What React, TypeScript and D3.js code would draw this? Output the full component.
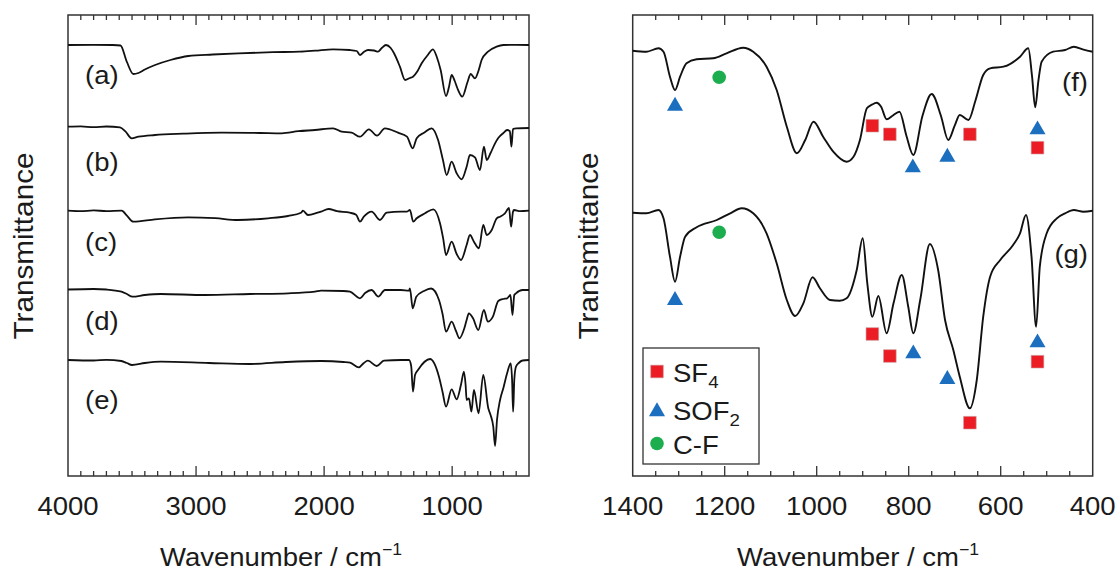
import React from 'react';
import * as d3 from 'd3';

// IR spectra, [wavenumber (cm-1), transmittance relative to each trace's baseline (a.u.)]
const specA: [number, number][] = [
  [4000, 0], [3800, 0.02], [3650, 0], [3590, -0.05], [3540, -1.7], [3490, -2.9], [3450, -2.8], [3400, -2.45],
  [3320, -2.0], [3200, -1.5], [3060, -1.1], [2870, -0.95], [2670, -0.83], [2400, -0.72], [2190, -0.67], [2070, -0.57],
  [1930, -0.43], [1800, -0.5], [1745, -0.6], [1720, -1.0], [1690, -0.7], [1657, -0.5], [1610, -0.55], [1579, -0.67],
  [1550, -0.3], [1517, 0], [1480, -0.3], [1454, -0.83], [1408, -2.17], [1368, -3.5], [1330, -3.3], [1306, -3.17],
  [1270, -2.6], [1238, -1.83], [1190, -1.0], [1150, -0.43], [1120, -1.2], [1090, -2.5], [1048, -5.1], [1025, -4.2],
  [1004, -3.0], [980, -3.6], [960, -4.3], [921, -5.17], [880, -3.7], [855, -2.9], [822, -3.33], [795, -2.6],
  [770, -1.5], [720, -0.67], [653, -0.17], [600, 0], [500, 0.02], [400, 0],
];
const specB: [number, number][] = [
  [4000, 0], [3900, 0.03], [3800, -0.05], [3700, 0.02], [3594, -0.06], [3550, -0.5], [3503, -1.16], [3450, -1.0],
  [3321, -0.83], [3100, -0.7], [2800, -0.6], [2500, -0.63], [2331, -0.66], [2200, -0.45], [2071, -0.33], [1930, -0.16],
  [1863, -0.5], [1785, -0.6], [1720, -1.0], [1650, -0.26], [1587, -0.9], [1525, -0.16], [1423, -0.6], [1353, -1.0],
  [1308, -2.16], [1277, -1.16], [1220, -0.6], [1160, -0.16], [1110, -1.33], [1072, -3.33], [1043, -4.83], [1004, -3.5],
  [965, -4.66], [926, -5.26], [887, -4.0], [861, -2.83], [822, -3.06], [783, -4.33], [752, -2.0], [730, -3.33],
  [700, -2.63], [665, -1.66], [640, -1.13], [600, -0.63], [571, -0.33], [550, -0.43], [537, -2.0], [525, -0.23],
  [500, -0.16], [400, -0.13],
];
const specC: [number, number][] = [
  [4000, 0], [3900, -0.05], [3800, 0.03], [3700, -0.04], [3581, 0], [3540, -0.5], [3490, -1.1], [3321, -0.86],
  [3063, -0.66], [2850, -0.75], [2672, -0.93], [2438, -0.76], [2282, -0.53], [2180, -0.2], [2165, 0], [2126, -0.43],
  [2050, -0.2], [2024, -0.1], [1965, 0.17], [1900, -0.05], [1800, -0.2], [1750, -0.4], [1720, -1.1], [1690, -0.6],
  [1629, -0.1], [1564, -0.93], [1511, -0.2], [1400, -0.1], [1355, -0.1], [1330, 0.07], [1304, -1.1], [1277, -0.76],
  [1212, -0.26], [1147, 0.14], [1095, -1.26], [1070, -2.8], [1048, -4.43], [1004, -3.1], [965, -4.33], [931, -4.93],
  [887, -3.43], [861, -2.43], [830, -3.1], [791, -3.76], [757, -1.43], [730, -2.43], [691, -1.93], [652, -0.76],
  [626, -0.6], [590, -0.3], [556, 0.27], [540, -1.6], [525, -0.1], [517, 0.07], [470, -0.05], [400, 0],
];
const specD: [number, number][] = [
  [4000, -0.05], [3800, 0], [3700, -0.05], [3583, -0.27], [3540, -0.5], [3497, -0.77], [3400, -0.6], [3276, -0.5],
  [2930, -0.6], [2579, -0.5], [2280, -0.43], [2071, -0.27], [2024, -0.17], [1850, -0.2], [1798, -0.27], [1720, -0.93],
  [1680, -0.4], [1629, -0.1], [1577, -0.77], [1525, -0.1], [1400, -0.1], [1337, -0.17], [1330, 0.07], [1308, -1.93],
  [1280, -0.77], [1220, -0.2], [1165, 0.05], [1103, -1.1], [1075, -2.5], [1048, -4.27], [1004, -3.27], [970, -4.2],
  [943, -4.93], [905, -3.93], [887, -3.1], [870, -2.43], [837, -2.93], [796, -4.1], [752, -2.1], [722, -3.26],
  [682, -2.76], [640, -1.2], [600, -1.0], [571, -0.93], [545, -0.6], [529, -2.6], [515, -0.6], [502, -0.43],
  [450, -0.1], [400, -0.1],
];
const specE: [number, number][] = [
  [4000, 0], [3800, -0.05], [3700, 0.02], [3583, -0.1], [3540, -0.3], [3500, -0.5], [3400, -0.3], [3276, -0.17],
  [2900, -0.3], [2579, -0.4], [2300, -0.2], [2024, -0.1], [1850, -0.2], [1798, -0.27], [1728, -0.73], [1690, -0.3],
  [1658, -0.07], [1589, -0.6], [1533, -0.07], [1400, 0], [1337, 0], [1320, -0.6], [1306, -3.17], [1290, -1.5],
  [1267, -1.0], [1173, 0.1], [1103, -1.67], [1075, -3.2], [1048, -4.67], [1004, -2.93], [965, -3.93], [930, -2.4],
  [908, -1.17], [895, -2.5], [887, -4.0], [869, -3.83], [850, -5.17], [830, -3.0], [794, -5.33], [757, -1.5],
  [718, -4.83], [700, -5.5], [679, -6.67], [665, -8.6], [650, -6.0], [626, -4.0], [600, -2.8], [571, -1.33],
  [543, -0.33], [532, -2.0], [524, -5.17], [515, -2.0], [502, -0.67], [480, -0.3], [450, -0.05], [400, 0],
];
const specF: [number, number][] = [
  [1400, 0], [1370, -0.1], [1344, 0.24], [1333, -0.1], [1319, -2.6], [1308, -3.93], [1297, -2.6], [1283, -1.26],
  [1261, -0.86], [1225, -0.76], [1196, -0.26], [1160, 0.3], [1138, -0.1], [1109, -1.6], [1087, -3.93], [1065, -7.6],
  [1043, -10.26], [1025, -8.93], [1007, -7.1], [986, -8.6], [964, -10.1], [935, -11.1], [920, -10.6], [906, -8.93],
  [891, -5.76], [880, -5.4], [870, -5.2], [860, -5.6], [848, -6.86], [835, -6.5], [820, -6.1], [805, -8.5],
  [790, -10.43], [770, -6.5], [750, -4.33], [730, -6.5], [714, -8.93], [700, -7.5], [689, -6.43], [670, -6.93],
  [655, -5.0], [638, -2.43], [623, -1.76], [594, -1.6], [558, -0.6], [540, 0.24], [532, -2.5], [525, -5.66],
  [518, -3.0], [511, -1.1], [486, -0.1], [460, 0.07], [441, 0.4], [420, 0.1], [400, -0.1],
];
const specG: [number, number][] = [
  [1400, 0], [1370, -0.06], [1344, 0.27], [1333, -0.56], [1319, -4.4], [1308, -6.9], [1297, -4.4], [1286, -2.4],
  [1261, -1.46], [1217, -0.73], [1188, -0.06], [1163, 0.44], [1138, -0.06], [1109, -2.06], [1087, -5.06], [1065, -8.73],
  [1047, -10.33], [1029, -9.06], [1009, -6.46], [993, -7.56], [971, -8.73], [950, -8.8], [935, -8.56], [913, -5.73],
  [900, -2.56], [890, -7.06], [879, -10.4], [866, -8.33], [848, -12.06], [833, -9.06], [815, -6.23], [801, -9.4],
  [790, -12.06], [775, -8.73], [754, -3.13], [736, -5.73], [721, -10.73], [703, -13.73], [689, -16.4], [667, -19.56],
  [652, -16.73], [638, -10.4], [623, -6.4], [601, -4.73], [573, -3.23], [558, -2.06], [545, -0.23], [533, -4.4],
  [523, -11.4], [515, -5.4], [500, -2.06], [478, -0.56], [460, -0.06], [441, 0.27], [420, 0.1], [400, 0.2],
];

const leftSpectra = [specA, specB, specC, specD, specE];
const leftOffsets = [43.1, 34.93, 26.53, 18.7, 11.6];
const leftLabels = ['(a)', '(b)', '(c)', '(d)', '(e)'];
const rightSpectra = [specF, specG];
const rightOffsets = [42.53, 26.33];
const rightLabels = ['(f)', '(g)'];

const leftTickLabels = [4000, 3000, 2000, 1000];
const rightTickLabels = [1400, 1200, 1000, 800, 600, 400];

// band assignments, [wavenumber, transmittance (same units as offsets)]
const sf4Marks: [number, number][] = [
  [879, 35.03], [841, 34.17], [667, 34.17], [520, 32.83],
  [879, 14.2], [841, 12.0], [667, 5.33], [520, 11.43],
];
const sof2Marks: [number, number][] = [
  [1308, 37.2], [791, 31.03], [716, 32.1], [520, 34.83],
  [1308, 17.77], [790, 12.43], [716, 9.87], [520, 13.53],
];
const cfMarks: [number, number][] = [[1212, 39.87], [1212, 24.37]];

const RED = '#ec1c24';
const BLUE = '#1b6fbe';
const GREEN = '#1cad4e';
const FONT = "'Liberation Sans', Arial, Helvetica, sans-serif";
const SX = 1.1; // glyphs in the figure are a bit wider than Arial

const W = 1120;
const H = 572;
const TOP = 15;
const BOTTOM = 476;

const yScale = d3.scaleLinear().domain([0, 46.1]).range([BOTTOM, TOP]);
const xLeft = d3.scaleLinear().domain([4000, 400]).range([68, 529]);
const xRight = d3.scaleLinear().domain([1400, 400]).range([632.7, 1092.7]);

const sqPath = d3.symbol().type(d3.symbolSquare).size(160)() as string;
const triPath = d3.symbol().type(d3.symbolTriangle).size(112)() as string;
const dotPath = d3.symbol().type(d3.symbolCircle).size(145)() as string;

function Txt(props: {x: number, y: number, size?: number, anchor?: string, rotate?: number, children: any}) {
  const {x, y, size = 25, anchor = 'middle', rotate = 0} = props;
  return (
    <text transform={`translate(${x},${y}) rotate(${rotate}) scale(${SX},1)`}
          textAnchor={anchor} fontSize={size} fontFamily={FONT} fill="#1a1a1a">
      {props.children}
    </text>
  );
}

function Frame(props: {x: any, step: number, major: number}) {
  const x = props.x;
  const [d0, d1] = x.domain();
  const ticks = d3.range(d0, d1 - 1, -props.step).filter((t: number) => t !== d0 && t !== d1);
  const [r0, r1] = x.range();
  return (
    <g>
      <rect x={r0} y={TOP} width={r1 - r0} height={BOTTOM - TOP} fill="none" stroke="#333" strokeWidth={1.5}/>
      {ticks.map((t: number) => {
        const len = t % props.major === 0 ? 10 : 5;
        return (
          <g key={t}>
            <line x1={x(t)} x2={x(t)} y1={BOTTOM} y2={BOTTOM - len} stroke="#333" strokeWidth={1.3}/>
            <line x1={x(t)} x2={x(t)} y1={TOP} y2={TOP + len} stroke="#333" strokeWidth={1.3}/>
          </g>
        );
      })}
    </g>
  );
}

function traces(x: any, spectra: [number, number][][], offsets: number[], width: number) {
  return spectra.map((s, i) => {
    const line = d3.line<[number, number]>()
      .x(d => x(d[0]))
      .y(d => yScale(d[1] + offsets[i]))
      .curve(d3.curveMonotoneX);
    return <path key={i} d={line(s) || ''} fill="none" stroke="#111" strokeWidth={width} strokeLinejoin="round"/>;
  });
}

export default function App() {
  return (
    <svg width={W} height={H} style={{position: 'absolute', left: 0, top: 0, background: '#fff'}}>
      <rect x={0} y={0} width={W} height={H} fill="#fff"/>

      {/* left panel */}
      <Frame x={xLeft} step={100} major={1000}/>
      {traces(xLeft, leftSpectra, leftOffsets, 1.8)}
      {leftLabels.map((l, i) => (
        <Txt key={l} x={85} y={yScale(leftOffsets[i]) + [39, 44, 40, 41, 49][i]} anchor="start">{l}</Txt>
      ))}
      {leftTickLabels.map(t => <Txt key={t} x={xLeft(t)} y={515}>{t}</Txt>)}
      <Txt x={281} y={566}>Wavenumber / cm<tspan fontSize={16} dy={-11}>−1</tspan></Txt>
      <Txt x={33} y={246} size={27} rotate={-90}>Transmittance</Txt>

      {/* right panel */}
      <Frame x={xRight} step={50} major={200}/>
      {traces(xRight, rightSpectra, rightOffsets, 1.9)}
      {rightLabels.map((l, i) => (
        <Txt key={l} x={1088} y={yScale(rightOffsets[i]) + [40, 50][i]} anchor="end">{l}</Txt>
      ))}
      {rightTickLabels.map(t => <Txt key={t} x={xRight(t)} y={515}>{t}</Txt>)}
      <Txt x={858} y={566}>Wavenumber / cm<tspan fontSize={16} dy={-11}>−1</tspan></Txt>
      <Txt x={598} y={246} size={27} rotate={-90}>Transmittance</Txt>

      {sf4Marks.map((d, i) => (
        <path key={'s' + i} d={sqPath} fill={RED} stroke="#c9a0a0" strokeWidth={0.6}
              transform={`translate(${xRight(d[0])},${yScale(d[1])})`}/>
      ))}
      {sof2Marks.map((d, i) => (
        <path key={'t' + i} d={triPath} fill={BLUE} transform={`translate(${xRight(d[0])},${yScale(d[1]) + 2})`}/>
      ))}
      {cfMarks.map((d, i) => (
        <path key={'c' + i} d={dotPath} fill={GREEN} transform={`translate(${xRight(d[0])},${yScale(d[1])})`}/>
      ))}

      {/* legend */}
      <g>
        <rect x={643} y={348} width={116} height={116} fill="#fff" stroke="#333" strokeWidth={1.3}/>
        <path d={sqPath} fill={RED} stroke="#c9a0a0" strokeWidth={0.6} transform="translate(657,371.5)"/>
        <path d={triPath} fill={BLUE} transform="translate(657,411.5)"/>
        <path d={dotPath} fill={GREEN} transform="translate(657,443.5)"/>
        <Txt x={673} y={381.5} anchor="start">SF<tspan fontSize={17} dy={6}>4</tspan></Txt>
        <Txt x={673} y={420} anchor="start">SOF<tspan fontSize={17} dy={6}>2</tspan></Txt>
        <Txt x={673} y={453.5} anchor="start">C-F</Txt>
      </g>
    </svg>
  );
}
